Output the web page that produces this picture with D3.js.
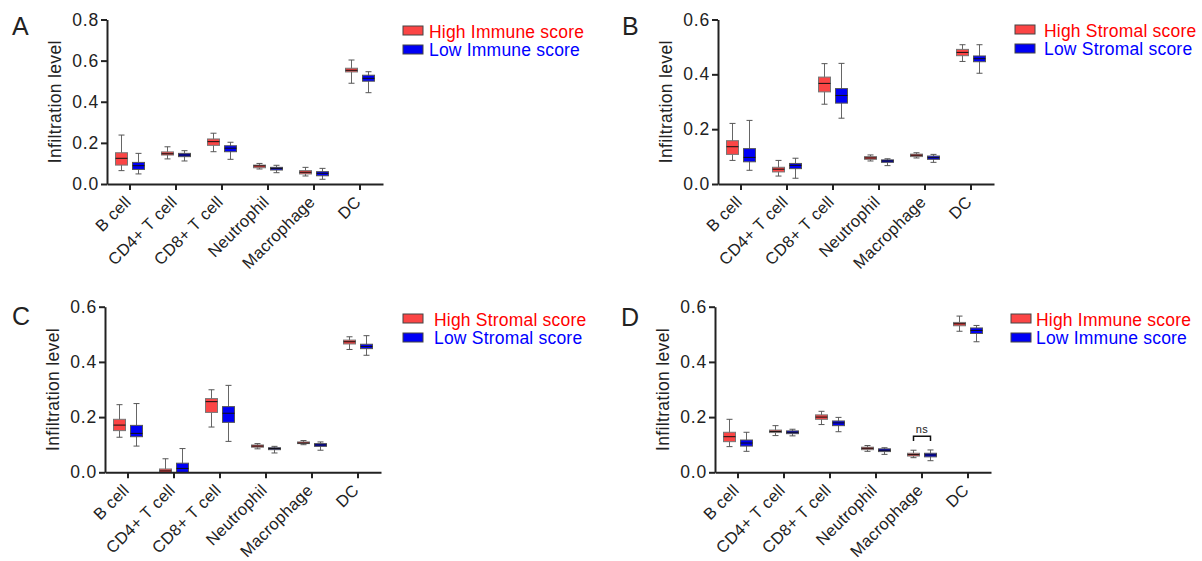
<!DOCTYPE html>
<html lang="en">
<head>
<meta charset="UTF-8">
<title>Immune cell infiltration by score group</title>
<style>
  body { margin: 0; background: #fff; }
  svg { font-family: "Liberation Sans", Arial, sans-serif; }
  .axis path, .axis line { stroke: #222; stroke-width: 2px; }
  .axis text { fill: #222; }
</style>
</head>
<body>
<svg width="1202" height="561"></svg>
<script src="https://d3js.org/d3.v7.min.js"></script>
<script>
var cells = ["B cell", "CD4+ T cell", "CD8+ T cell", "Neutrophil", "Macrophage", "DC"];
var ticks08 = [0, 0.2, 0.4, 0.6, 0.8];
var ticks06 = [0, 0.2, 0.4, 0.6];

// each row: [min, q1, median, q3, max]
var highImmuneA = [
  [0.065, 0.092, 0.125, 0.152, 0.238],
  [0.122, 0.141, 0.147, 0.156, 0.181],
  [0.157, 0.188, 0.206, 0.219, 0.247],
  [0.073, 0.079, 0.088, 0.092, 0.100],
  [0.039, 0.049, 0.057, 0.065, 0.081],
  [0.490, 0.545, 0.553, 0.563, 0.603]
];
var lowImmuneA = [
  [0.049, 0.071, 0.089, 0.105, 0.149],
  [0.112, 0.133, 0.141, 0.149, 0.162],
  [0.120, 0.157, 0.174, 0.186, 0.203],
  [0.055, 0.068, 0.076, 0.081, 0.091],
  [0.023, 0.040, 0.052, 0.060, 0.076],
  [0.444, 0.500, 0.514, 0.529, 0.546]
];
var highStromalB = [
  [0.086, 0.108, 0.136, 0.158, 0.221],
  [0.029, 0.044, 0.054, 0.061, 0.086],
  [0.291, 0.336, 0.367, 0.390, 0.439],
  [0.084, 0.090, 0.095, 0.100, 0.106],
  [0.095, 0.100, 0.105, 0.109, 0.114],
  [0.447, 0.468, 0.480, 0.491, 0.508]
];
var lowStromalB = [
  [0.050, 0.081, 0.097, 0.129, 0.232],
  [0.021, 0.056, 0.068, 0.075, 0.094],
  [0.240, 0.295, 0.323, 0.348, 0.440],
  [0.067, 0.079, 0.084, 0.088, 0.092],
  [0.079, 0.090, 0.096, 0.102, 0.108],
  [0.404, 0.446, 0.457, 0.467, 0.508]
];
var highStromalC = [
  [0.127, 0.151, 0.171, 0.192, 0.245],
  [-0.030, -0.008, 0.005, 0.012, 0.049],
  [0.164, 0.217, 0.256, 0.267, 0.299],
  [0.085, 0.091, 0.095, 0.099, 0.104],
  [0.100, 0.104, 0.106, 0.110, 0.115],
  [0.445, 0.465, 0.473, 0.479, 0.491]
];
var lowStromalC = [
  [0.095, 0.129, 0.141, 0.170, 0.249],
  [-0.030, -0.005, 0.014, 0.033, 0.086],
  [0.112, 0.181, 0.214, 0.238, 0.315],
  [0.070, 0.082, 0.086, 0.089, 0.094],
  [0.080, 0.094, 0.099, 0.104, 0.110],
  [0.424, 0.448, 0.456, 0.464, 0.495]
];
var highImmuneD = [
  [0.093, 0.111, 0.129, 0.145, 0.192],
  [0.133, 0.144, 0.148, 0.153, 0.169],
  [0.173, 0.192, 0.200, 0.208, 0.221],
  [0.076, 0.082, 0.087, 0.091, 0.097],
  [0.053, 0.059, 0.064, 0.069, 0.080],
  [0.511, 0.531, 0.538, 0.543, 0.566]
];
var lowImmuneD = [
  [0.076, 0.095, 0.106, 0.117, 0.145],
  [0.132, 0.140, 0.145, 0.150, 0.156],
  [0.147, 0.169, 0.179, 0.186, 0.199],
  [0.065, 0.075, 0.080, 0.085, 0.089],
  [0.042, 0.056, 0.063, 0.069, 0.081],
  [0.473, 0.503, 0.514, 0.523, 0.532]
];
// "ns" bracket in panel D: category, bracket level, leg bottom
var nsMark = { cell: "Macrophage", level: 0.131, legEnd: 0.113 };

var panels = [
  { letter: "A", lx: 12, ly: 35, high: highImmuneA, low: lowImmuneA, ticks: ticks08,
    left: 107, top: 19.5, bottom: 184, names: ["High Immune score", "Low Immune score"],
    legX: 403, legY: 26, legTx: 429 },
  { letter: "B", lx: 622, ly: 35, high: highStromalB, low: lowStromalB, ticks: ticks06,
    left: 718, top: 19.5, bottom: 184, names: ["High Stromal score", "Low Stromal score"],
    legX: 1015, legY: 25, legTx: 1044 },
  { letter: "C", lx: 12, ly: 325, high: highStromalC, low: lowStromalC, ticks: ticks06,
    left: 105, top: 306.7, bottom: 472.3, names: ["High Stromal score", "Low Stromal score"],
    legX: 403, legY: 314, legTx: 434 },
  { letter: "D", lx: 621, ly: 326, high: highImmuneD, low: lowImmuneD, ticks: ticks06,
    left: 715, top: 306.7, bottom: 472.3, names: ["High Immune score", "Low Immune score"],
    legX: 1011, legY: 314, legTx: 1036, ns: nsMark }
];

var svg = d3.select("svg");
var red = "#fb4545", blue = "#0000f5";

panels.forEach(function(p, idx) {
  var g = svg.append("g");
  var x = d3.scaleBand().domain(cells).range([p.left, p.left + 276]);
  var y = d3.scaleLinear().domain([0, d3.max(p.ticks)]).range([p.bottom, p.top]);

  g.append("clipPath").attr("id", "clip" + idx)
    .append("rect").attr("x", p.left).attr("y", p.top - 20)
    .attr("width", 290).attr("height", p.bottom - p.top + 20);

  // boxes
  var boxes = g.append("g").attr("clip-path", "url(#clip" + idx + ")");
  [[p.high, -8.5, red, "#777"], [p.low, 8.5, blue, "#555"]].forEach(function(s) {
    var grp = boxes.selectAll(null).data(s[0]).enter().append("g")
      .attr("transform", function(d, i) {
        return "translate(" + (x(cells[i]) + x.bandwidth() / 2 + s[1]) + ",0)";
      });
    grp.append("line").attr("x1", 0).attr("x2", 0)
      .attr("y1", function(d) { return y(d[0]); })
      .attr("y2", function(d) { return y(d[4]); })
      .attr("stroke", "#666").attr("stroke-width", 1);
    [0, 4].forEach(function(k) {
      grp.append("line").attr("x1", -3).attr("x2", 3)
        .attr("y1", function(d) { return y(d[k]); })
        .attr("y2", function(d) { return y(d[k]); })
        .attr("stroke", "#555").attr("stroke-width", 1);
    });
    grp.append("rect").attr("x", -6).attr("width", 12)
      .attr("y", function(d) { return y(d[3]); })
      .attr("height", function(d) { return y(d[1]) - y(d[3]); })
      .attr("fill", s[2]).attr("stroke", s[3]).attr("stroke-width", 1);
    grp.append("line").attr("x1", -6).attr("x2", 6)
      .attr("y1", function(d) { return y(d[2]); })
      .attr("y2", function(d) { return y(d[2]); })
      .attr("stroke", "#111").attr("stroke-width", 1);
  });

  // axes
  g.append("g").attr("class", "axis")
    .attr("transform", "translate(" + p.left + ",0)")
    .call(d3.axisLeft(y).tickValues(p.ticks).tickFormat(d3.format(".1f")).tickSize(6).tickSizeOuter(0))
    .call(function(a) {
      a.selectAll("text").attr("font-size", 17.5).attr("font-family", null)
        .attr("letter-spacing", 0.8).attr("x", -8);
    });

  g.append("g").attr("class", "axis")
    .attr("transform", "translate(0," + p.bottom + ")")
    .call(d3.axisBottom(x).tickSize(6).tickSizeOuter(0))
    .call(function(a) {
      a.selectAll("text")
        .attr("font-size", 16.5).attr("font-family", null)
        .attr("letter-spacing", 0.3)
        .attr("y", null).attr("dy", null)
        .attr("text-anchor", "end")
        .attr("transform", "translate(2,19) rotate(-45)");
    });

  g.append("text")
    .attr("transform", "translate(" + (p.left - 46) + "," + ((p.top + p.bottom) / 2) + ") rotate(-90)")
    .attr("text-anchor", "middle").attr("font-size", 17.5).attr("fill", "#222")
    .attr("letter-spacing", 0.35)
    .text("Infiltration level");

  g.append("text").attr("x", p.lx).attr("y", p.ly)
    .attr("font-size", 25).attr("fill", "#222").text(p.letter);

  // legend
  [[p.names[0], red, "#ff0000"], [p.names[1], blue, "#0000ff"]].forEach(function(l, i) {
    g.append("rect").attr("x", p.legX).attr("y", p.legY + i * 19)
      .attr("width", 20).attr("height", 9)
      .attr("fill", l[1]).attr("stroke", "#444").attr("stroke-width", 1);
    g.append("text").attr("x", p.legTx).attr("y", p.legY + i * 18 + 12)
      .attr("font-size", 17.5).attr("fill", l[2]).attr("letter-spacing", 0.2).text(l[0]);
  });

  if (p.ns) {
    var cx = x(p.ns.cell) + x.bandwidth() / 2;
    g.append("path")
      .attr("d", d3.line()([[cx - 8.5, y(p.ns.legEnd)], [cx - 8.5, y(p.ns.level)],
                           [cx + 8.5, y(p.ns.level)], [cx + 8.5, y(p.ns.legEnd)]]))
      .attr("fill", "none").attr("stroke", "#111").attr("stroke-width", 1.5);
    g.append("text").attr("x", cx).attr("y", y(p.ns.level) - 3)
      .attr("text-anchor", "middle").attr("font-size", 11).attr("fill", "#222")
      .attr("letter-spacing", 0.5)
      .text("ns");
  }
});
</script>
</body>
</html>
